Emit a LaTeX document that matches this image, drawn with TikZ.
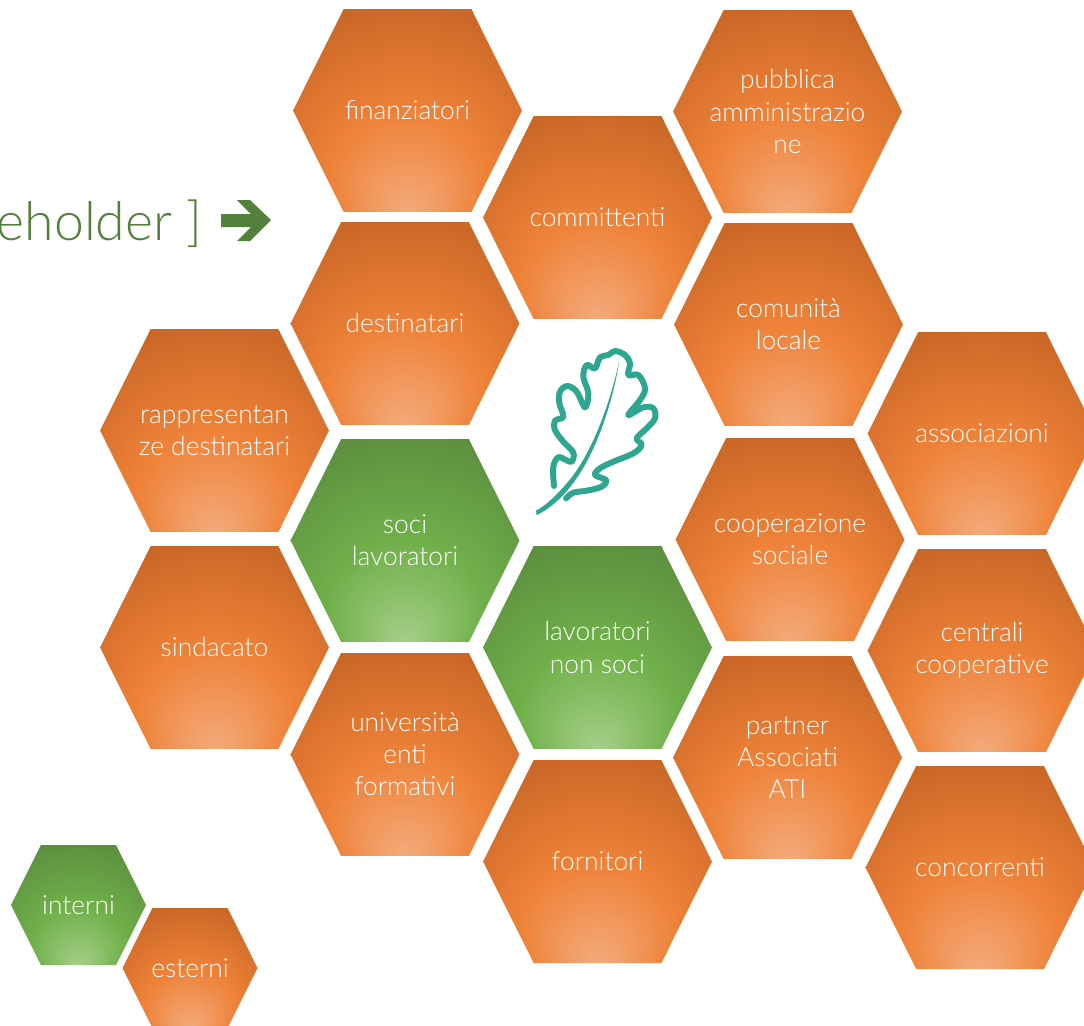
\documentclass[tikz,border=0pt]{standalone}
\usepackage{fontspec}
\setmainfont{Lato}[UprightFont=* Light]
\usetikzlibrary{shapes.symbols}

\definecolor{orangelight}{HTML}{F3AC7C}
\definecolor{orangemid}{HTML}{EE8239}
\definecolor{orangedark}{HTML}{BA5A1E}
\definecolor{greenlight}{HTML}{A6D08A}
\definecolor{greenmid}{HTML}{70B04A}
\definecolor{greendark}{HTML}{53803A}
\definecolor{leafteal}{HTML}{2FA690}
\pgfdeclareradialshading{hexorange}{\pgfpoint{0bp}{-26bp}}{
    color(0bp)=(orangelight); color(17bp)=(orangemid); color(43bp)=(orangedark); color(50bp)=(orangedark)}
\pgfdeclareradialshading{hexgreen}{\pgfpoint{0bp}{-26bp}}{
    color(0bp)=(greenlight); color(17bp)=(greenmid); color(43bp)=(greendark); color(50bp)=(greendark)}

\begin{document}
\begin{tikzpicture}[x=0.02cm, y=-0.02cm]
    \tikzstyle{hex} = [shape=signal, signal to=east and west, signal pointer angle=127,
        inner xsep=-1.7cm, inner ysep=0pt, outer sep=0pt, minimum width=4.58cm, minimum height=4.06cm,
        align=center, text=white, font=\fontsize{15}{18.3}\selectfont];
    \tikzstyle{ext} = [hex, shading=hexorange];
    \tikzstyle{int} = [hex, shading=hexgreen];
    \tikzstyle{small} = [minimum width=2.7cm, minimum height=2.4cm];
    \tikzstyle{leafline} = [draw=leafteal, line width=3.4pt, line cap=round, line join=round];

    \useasboundingbox (0, 0) rectangle (1084, 1025);
    \clip (0, 0) rectangle (1084, 1025);

    \node[ext] (finanziatori) at (407.5, 110.5) {finanziatori};
    \node[ext] (committenti) at (597.5, 217.5) {committenti};
    \node[ext] (pubblica) at (787.5, 111.5) {pubblica\\amministrazio\\ne};
    \node[ext] (destinatari) at (405, 323.5) {destinatari};
    \node[ext] (comunita) at (788.5, 324.5) {comunità\\locale};
    \node[ext] (rappresentanze) at (214.5, 430.5) {rappresentan\\ze destinatari};
    \node[ext] (associazioni) at (982, 433.5) {associazioni};
    \node[int] (soci) at (405, 540.5) {soci\\lavoratori};
    \node[ext] (cooperazione) at (790, 539.5) {cooperazione\\sociale};
    \node[int] (nonsoci) at (597.5, 647.5) {lavoratori\\non soci};
    \node[ext] (sindacato) at (214.5, 647.5) {sindacato};
    \node[ext] (centrali) at (982, 650.5) {centrali\\cooperative};
    \node[ext] (universita) at (405, 754.5) {università\\enti\\formativi};
    \node[ext] (partner) at (787.5, 757.5) {partner\\Associati\\ATI};
    \node[ext] (fornitori) at (597.5, 861.5) {fornitori};
    \node[ext] (concorrenti) at (980, 867.5) {concorrenti};

    \node[int, small] (interni) at (78.5, 905) {interni};
    \node[ext, small] (esterni) at (190, 968) {esterni};

    \node[anchor=base east, text=greendark, font=\fontsize{30.5}{36}\selectfont] (title) at (209, 240) {eholder ]};
    \fill[greendark] (221, 214) -- (251, 214) -- (237, 200) -- (250, 200) -- (271, 220)
        -- (250, 241) -- (237, 241) -- (251, 227) -- (221, 227) -- cycle;

    % leaf
    \begin{scope}[shift={(480, 320)}, x=0.00667cm, y=-0.00667cm]
        \draw[leafline] plot[smooth, tension=0.6] coordinates {
            (222, 498) (220, 440) (235, 412) (258, 420) (275, 425) (280, 398) (250, 365)
            (225, 330) (225, 302) (250, 290) (238, 250) (240, 215) (262, 198) (290, 215)
            (315, 262) (325, 220) (310, 170) (320, 135) (345, 145) (360, 112) (385, 105)
            (405, 93) (435, 105) (450, 130) (445, 165) (475, 165) (495, 205) (480, 240)
            (445, 285) (490, 262) (520, 265) (525, 295) (500, 325) (470, 355) (485, 375)
            (460, 400) (400, 425) (360, 445) (345, 465) (378, 480) (365, 500) (320, 512)
            (280, 518) (258, 535)};
        \fill[leafteal] (418, 122) .. controls (395, 230) and (340, 400) .. (260, 490)
            .. controls (230, 525) and (200, 555) .. (168, 572) -- (170, 586)
            .. controls (210, 565) and (245, 535) .. (275, 495)
            .. controls (350, 400) and (400, 240) .. (418, 122) -- cycle;
    \end{scope}
\end{tikzpicture}
\end{document}
